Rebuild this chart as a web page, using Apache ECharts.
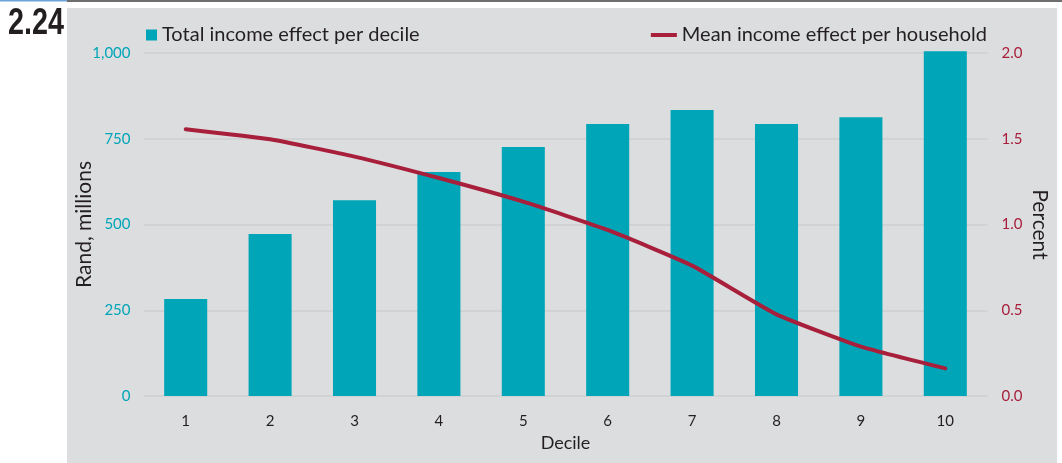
<!DOCTYPE html>
<html><head><meta charset="utf-8">
<script src="https://cdn.jsdelivr.net/npm/echarts@6/dist/echarts.min.js"></script>
<style>html,body{margin:0;padding:0;background:#fff;}#c{width:1062px;height:463px;}</style>
</head><body><div id="c"></div>
<script>
const categories = ['1','2','3','4','5','6','7','8','9','10'];
const totalIncome = [283, 472, 571, 653, 726, 793, 834, 793, 813, 1005];
const meanIncome = [1.556, 1.497, 1.396, 1.271, 1.133, 0.968, 0.760, 0.476, 0.288, 0.161];
const leftTicks = [0, 250, 500, 750, 1000];
const rightTicks = [0, 0.5, 1.0, 1.5, 2.0];

const TEAL = '#00A6B8', RED = '#A81F3B', FONT = 'Lato, "Open Sans", sans-serif';
const chart = echarts.init(document.getElementById('c'), null, {renderer:'canvas'});
chart.setOption({
  animation:false,
  backgroundColor:'#ffffff',
  graphic:[
    {type:'rect', shape:{x:67,y:8,width:990,height:455}, style:{fill:'#DCDDDF'}, z:-10},
    {type:'rect', shape:{x:0,y:0,width:67,height:1.5}, style:{fill:'#6FA3D8'}, z:-10},
    {type:'rect', shape:{x:67,y:0,width:995,height:2}, style:{fill:'#6E6E6E'}, z:-10},
    {type:'text', left:8, top:6, scaleX:0.8, style:{text:'2.24', font:'bold 36px "Liberation Sans", Arial, sans-serif', fill:'#231F20'}}
  ],
  grid:{left:143.5, right:74.5, top:53, bottom:67},
  legend:[
    {data:[{name:'Total income effect per decile', icon:'rect'}], left:141, top:20, itemWidth:11, itemHeight:11, itemGap:9,
     textStyle:{fontFamily:FONT, fontSize:20, color:'#231F20'}},
    {data:[{name:'Mean income effect per household', icon:'rect'}], right:70, top:20, itemWidth:26, itemHeight:4, itemGap:8,
     textStyle:{fontFamily:FONT, fontSize:20, color:'#231F20'}}
  ],
  xAxis:{type:'category', data:categories, name:'Decile', nameLocation:'middle', nameGap:38, nameMoveOverlap:false,
    nameTextStyle:{fontFamily:FONT, fontSize:18, color:'#231F20'},
    axisLine:{show:false}, axisTick:{show:false},
    axisLabel:{fontFamily:FONT, fontSize:15, color:'#231F20', margin:18}},
  yAxis:[
    {type:'value', min:0, max:1000, interval:250, name:'Rand, millions', nameLocation:'middle', nameGap:49, nameMoveOverlap:false,
     nameTextStyle:{fontFamily:FONT, fontSize:21, color:'#231F20'},
     axisLabel:{fontFamily:FONT, fontSize:15, color:TEAL, margin:13,
       formatter:v=>leftTicks.includes(v)?v.toLocaleString('en-US'):''},
     splitLine:{lineStyle:{color:'#CDCED0', width:1.5}}, axisLine:{show:false}, axisTick:{show:false}},
    {type:'value', min:0, max:2, interval:0.5, name:'Percent', nameLocation:'middle', nameGap:42, nameRotate:-90, nameMoveOverlap:false,
     nameTextStyle:{fontFamily:FONT, fontSize:21, color:'#231F20'},
     axisLabel:{fontFamily:FONT, fontSize:15, color:RED, margin:14,
       formatter:v=>rightTicks.includes(v)?v.toFixed(1):''},
     splitLine:{show:false}, axisLine:{show:false}, axisTick:{show:false}}
  ],
  series:[
    {name:'Total income effect per decile', type:'bar', data:totalIncome, yAxisIndex:0, barWidth:'51%', clip:false,
     itemStyle:{color:TEAL}},
    {name:'Mean income effect per household', type:'line', data:meanIncome, yAxisIndex:1, smooth:0.15,
     symbol:'none', lineStyle:{color:RED, width:4, cap:'round'}, itemStyle:{color:RED}}
  ]
});
</script></body></html>
